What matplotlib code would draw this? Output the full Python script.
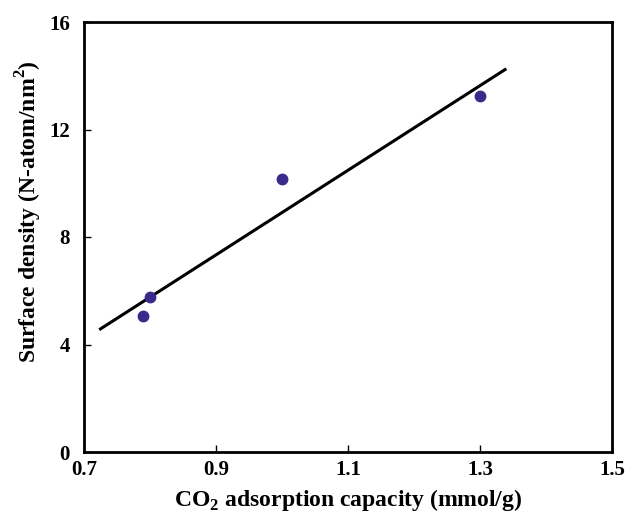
import matplotlib
matplotlib.use('Agg')
import matplotlib.pyplot as plt

# measured points
capacity = [0.79, 0.80, 1.00, 1.30]
density = [5.06, 5.75, 10.14, 13.23]

# linear fit line end points
fit_x = [0.725, 1.338]
fit_y = [4.58, 14.23]

x_ticks = [0.7, 0.9, 1.1, 1.3, 1.5]
y_ticks = [0, 4, 8, 12, 16]

plt.rcParams['font.family'] = ['Liberation Serif', 'DejaVu Serif']
plt.rcParams['font.weight'] = 'bold'
plt.rcParams['mathtext.fontset'] = 'custom'
plt.rcParams['mathtext.rm'] = 'Liberation Serif:bold'
plt.rcParams['mathtext.bf'] = 'Liberation Serif:bold'

fig = plt.figure(figsize=(6.28, 5.16), dpi=100)
ax = fig.add_axes([84 / 628, 64 / 516, 528 / 628, 430 / 516])

ax.plot(fit_x, fit_y, color='black', lw=2.2)
ax.plot(capacity, density, 'o', color='#3a2a8c', markersize=7.5)

ax.set_xlim(0.7, 1.5)
ax.set_ylim(0, 16)
ax.set_xticks(x_ticks)
ax.set_yticks(y_ticks)
ax.set_xticklabels([f'{t:.1f}' for t in x_ticks], fontsize=15, fontweight='bold')
ax.set_yticklabels([str(t) for t in y_ticks], fontsize=15, fontweight='bold')
ax.tick_params(axis='x', direction='in', length=5, width=1, pad=6)
ax.tick_params(axis='y', direction='in', length=5, width=1, pad=10)

for s in ax.spines.values():
    s.set_linewidth(2)

ax.set_xlabel(r'CO$_\mathbf{2}$ adsorption capacity (mmol/g)', fontsize=17, fontweight='bold', labelpad=5)
ax.set_ylabel(r'Surface density (N-atom/nm$^\mathbf{2}$)', fontsize=17, fontweight='bold')
ax.yaxis.set_label_coords(-0.076, 0.558)

fig.savefig('out.png', dpi=100)
